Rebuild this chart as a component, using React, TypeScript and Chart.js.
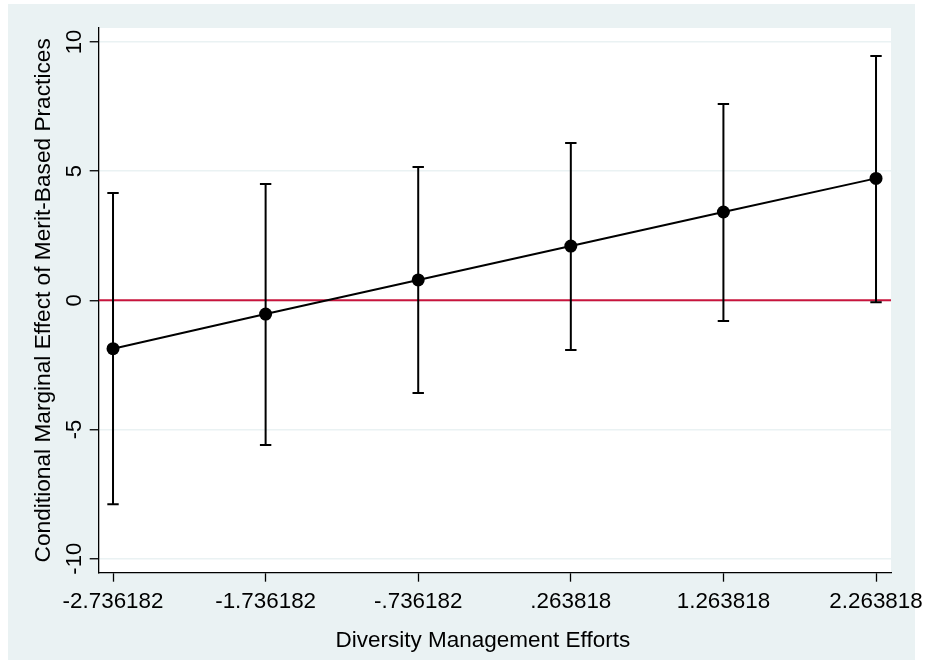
import React, { useEffect, useRef } from "react";
import { Chart, registerables } from "chart.js";

Chart.register(...registerables);

const xValues = [-2.736182, -1.736182, -0.736182, 0.263818, 1.263818, 2.263818];
const xTickLabels = ["-2.736182", "-1.736182", "-.736182", ".263818", "1.263818", "2.263818"];
const effects = [-1.87, -0.53, 0.79, 2.1, 3.42, 4.72];
const lowerCI = [-7.89, -5.6, -3.59, -1.92, -0.8, -0.07];
const upperCI = [4.15, 4.5, 5.16, 6.09, 7.6, 9.46];
const yTicks = [-10, -5, 0, 5, 10];
const yTickLabels = ["-10", "-5", "0", "5", "10"];
const referenceY = 0;
const xMin = -2.83;
const xMax = 2.362;
const yMin = -10.54;
const yMax = 10.54;
const xTitle = "Diversity Management Efforts";
const yTitle = "Conditional Marginal Effect of Merit-Based Practices";

const FONT = "'Liberation Sans', Arial, Helvetica, sans-serif";
const BG_WIDTH = 907;

const plotBg = {
  id: "plotBg",
  beforeDraw(chart: any) {
    const { ctx, chartArea: a } = chart;
    ctx.save();
    ctx.fillStyle = "#EAF2F3";
    ctx.fillRect(0, 0, BG_WIDTH, chart.height);
    ctx.fillStyle = "#ffffff";
    ctx.fillRect(a.left, a.top, a.right - a.left, a.bottom - a.top);
    ctx.restore();
  },
};

const errorBars = {
  id: "errorBars",
  beforeDatasetDraw(chart: any, args: any) {
    if (args.index !== 0) return;
    const xs = chart.scales.x;
    const ys = chart.scales.y;
    const ctx = chart.ctx;
    ctx.save();
    ctx.strokeStyle = "#000000";
    ctx.lineWidth = 2;
    const cap = 5.7;
    xValues.forEach((xv, i) => {
      const px = xs.getPixelForValue(xv);
      const lo = ys.getPixelForValue(lowerCI[i]);
      const hi = ys.getPixelForValue(upperCI[i]);
      ctx.beginPath();
      ctx.moveTo(px, lo);
      ctx.lineTo(px, hi);
      ctx.moveTo(px - cap, lo);
      ctx.lineTo(px + cap, lo);
      ctx.moveTo(px - cap, hi);
      ctx.lineTo(px + cap, hi);
      ctx.stroke();
    });
    ctx.restore();
  },
};

const axisTexts = {
  id: "axisTexts",
  afterDraw(chart: any) {
    const ys = chart.scales.y;
    const xs = chart.scales.x;
    const a = chart.chartArea;
    const ctx = chart.ctx;
    ctx.save();
    ctx.fillStyle = "#000000";
    ctx.textAlign = "center";
    ctx.textBaseline = "alphabetic";
    // rotated y tick labels
    ctx.font = `22px ${FONT}`;
    const bx = ys.right - 17.7;
    yTicks.forEach((v, i) => {
      const py = ys.getPixelForValue(v);
      ctx.save();
      ctx.translate(bx, py);
      ctx.rotate(-Math.PI / 2);
      ctx.fillText(yTickLabels[i], 0, 0);
      ctx.restore();
    });
    // x title
    ctx.font = `22.5px ${FONT}`;
    ctx.fillText(xTitle, (a.left + a.right) / 2 - 12, xs.bottom - 12.7);
    ctx.restore();
  },
};

export default function App() {
  const ref = useRef<HTMLCanvasElement | null>(null);

  useEffect(() => {
    if (!ref.current) return;
    const chart = new Chart(ref.current, {
      type: "line",
      data: {
        datasets: [
          {
            label: "effect",
            data: xValues.map((x, i) => ({ x, y: effects[i] })),
            borderColor: "#000000",
            backgroundColor: "#000000",
            borderWidth: 2,
            pointRadius: 6.5,
            pointBorderWidth: 0,
            pointBackgroundColor: "#000000",
            tension: 0,
          },
          {
            label: "zero",
            data: [
              { x: xMin, y: referenceY },
              { x: xMax, y: referenceY },
            ],
            borderColor: "#C8143C",
            borderWidth: 2,
            pointRadius: 0,
            tension: 0,
          },
        ],
      },
      options: {
        animation: false,
        responsive: false,
        events: [],
        layout: { padding: { left: 0, right: 36, top: 24, bottom: 0 } },
        plugins: {
          legend: { display: false },
          tooltip: { enabled: false },
        },
        scales: {
          x: {
            type: "linear",
            min: xMin,
            max: xMax,
            afterBuildTicks(scale: any) {
              scale.ticks = xValues.map((v) => ({ value: v }));
            },
            afterFit(scale: any) {
              scale.height = 87.3;
              scale.paddingLeft = 0;
              scale.paddingRight = 0;
              scale.paddingTop = 0;
              scale.paddingBottom = 0;
            },
            ticks: {
              autoSkip: false,
              maxRotation: 0,
              minRotation: 0,
              color: "#000000",
              padding: 7,
              font: { family: FONT, size: 22.4 },
              callback: (_v: any, i: number) => xTickLabels[i],
            },
            grid: {
              drawOnChartArea: false,
              drawTicks: true,
              tickLength: 9,
              tickColor: "#000000",
              tickWidth: 1.3,
            },
            border: { color: "#000000", width: 1.3 },
            title: { display: false },
          },
          y: {
            type: "linear",
            min: yMin,
            max: yMax,
            afterBuildTicks(scale: any) {
              scale.ticks = yTicks.map((v) => ({ value: v }));
            },
            afterFit(scale: any) {
              scale.width = 90.7;
              scale.paddingTop = 0;
              scale.paddingBottom = 0;
              scale.paddingLeft = 0;
              scale.paddingRight = 0;
            },
            ticks: { display: false },
            grid: {
              drawOnChartArea: true,
              color: "#EAF2F3",
              lineWidth: 1.5,
              drawTicks: true,
              tickLength: 9,
              tickColor: "#000000",
              tickWidth: 1.3,
            },
            border: { color: "#000000", width: 1.3 },
            title: {
              display: true,
              text: yTitle,
              color: "#000000",
              font: { family: FONT, size: 22.7 },
              padding: { top: 22.2, bottom: 0 },
            },
          },
        },
      },
      plugins: [plotBg, errorBars, axisTexts],
    });
    return () => chart.destroy();
  }, []);

  return (
    <div
      style={{
        position: "absolute",
        left: 8,
        top: 4,
        width: 919,
        height: 656,
      }}
    >
      <canvas ref={ref} width={919} height={656} style={{ display: "block" }} />
    </div>
  );
}
